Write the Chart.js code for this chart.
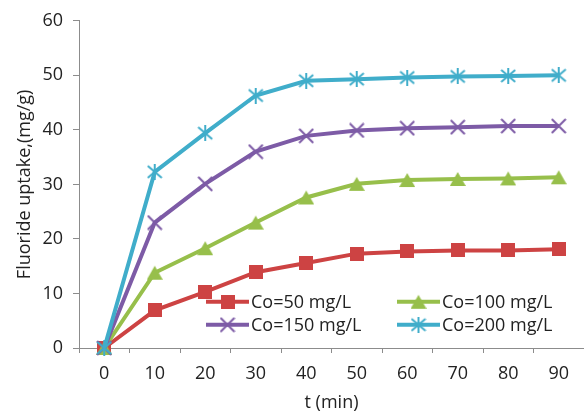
<!DOCTYPE html>
<html>
<head>
<meta charset="utf-8">
<script src="https://cdn.jsdelivr.net/npm/chart.js@4/dist/chart.umd.min.js"></script>
<style>
  html, body { margin: 0; padding: 0; background: #ffffff; }
  #wrap { width: 584px; height: 414px; position: relative; }
</style>
</head>
<body>
<div id="wrap"><canvas id="c" width="584" height="414"></canvas></div>
<script>
// ---- data ----
const timeLabels = ['0', '10', '20', '30', '40', '50', '60', '70', '80', '90'];
const co50  = [0, 6.9, 10.3, 13.9, 15.6, 17.3, 17.7, 17.9, 17.9, 18.1];
const co100 = [0, 13.8, 18.3, 23.0, 27.6, 30.1, 30.8, 31.0, 31.1, 31.3];
const co150 = [0, 23.0, 30.1, 36.0, 38.9, 39.9, 40.3, 40.5, 40.7, 40.7];
const co200 = [0, 32.3, 39.4, 46.3, 49.0, 49.3, 49.6, 49.8, 49.9, 50.0];
const seriesNames = ['Co=50 mg/L', 'Co=100 mg/L', 'Co=150 mg/L', 'Co=200 mg/L'];
const yTicks = [0, 10, 20, 30, 40, 50, 60];

const RED = '#CD4343', GREEN = '#97BF4B', PURPLE = '#7D5BA6', CYAN = '#40ADCA';
const FONT = '"Open Sans", "Noto Sans", sans-serif';

function mk(size, draw) {
  const c = document.createElement('canvas');
  c.width = size; c.height = size;
  draw(c.getContext('2d'), size);
  return c;
}
const squareImg = mk(14, (g, s) => { g.fillStyle = RED; g.fillRect(0, 0, s, s); });
const triImg = mk(16, (g, s) => {
  g.fillStyle = GREEN; g.beginPath();
  g.moveTo(s / 2, 1); g.lineTo(s, s - 1); g.lineTo(0, s - 1); g.closePath(); g.fill();
});
const crossImg = mk(16, (g, s) => {
  g.strokeStyle = PURPLE; g.lineWidth = 2; g.beginPath();
  g.moveTo(1, 1); g.lineTo(s - 1, s - 1); g.moveTo(s - 1, 1); g.lineTo(1, s - 1); g.stroke();
});
const starImg = mk(16, (g, s) => {
  g.strokeStyle = CYAN; g.lineWidth = 2; g.beginPath();
  g.moveTo(1, 2); g.lineTo(s - 1, s - 2); g.moveTo(s - 1, 2); g.lineTo(1, s - 2);
  g.moveTo(s / 2, 0); g.lineTo(s / 2, s); g.stroke();
});

const series = [
  { data: co50, color: RED, img: squareImg, order: 4 },
  { data: co100, color: GREEN, img: triImg, order: 3 },
  { data: co150, color: PURPLE, img: crossImg, order: 2 },
  { data: co200, color: CYAN, img: starImg, order: 1 }
];

const datasets = series.map((s, i) => ({
  label: seriesNames[i],
  data: s.data,
  borderColor: s.color,
  backgroundColor: s.color,
  borderWidth: 4,
  tension: 0,
  pointStyle: s.img,
  pointRadius: 7,
  order: s.order,
  clip: false
}));

// custom in-plot legend (2 columns x 2 rows)
const legendPlugin = {
  id: 'inLegend',
  afterDatasetsDraw(chart) {
    const ctx = chart.ctx, a = chart.chartArea;
    const cols = [a.left + 127, a.left + 318];
    const rows = [a.top + 281, a.top + 304];
    const lineLen = 43;
    ctx.save();
    ctx.font = '18px ' + FONT;
    ctx.textBaseline = 'middle';
    series.forEach((s, i) => {
      const x0 = cols[i % 2], y = rows[Math.floor(i / 2)];
      ctx.strokeStyle = s.color; ctx.lineWidth = 4;
      ctx.beginPath(); ctx.moveTo(x0, y); ctx.lineTo(x0 + lineLen, y); ctx.stroke();
      ctx.drawImage(s.img, x0 + lineLen / 2 - s.img.width / 2, y - s.img.height / 2);
      ctx.fillStyle = '#222';
      ctx.fillText(seriesNames[i], x0 + lineLen + 2, y + 1);
    });
    ctx.restore();
  }
};

new Chart(document.getElementById('c'), {
  type: 'line',
  data: { labels: timeLabels, datasets },
  plugins: [legendPlugin],
  options: {
    responsive: false,
    animation: false,
    events: [],
    layout: { autoPadding: false, padding: { top: 19, right: 0, left: 0, bottom: 0 } },
    plugins: { legend: { display: false }, tooltip: { enabled: false } },
    scales: {
      x: {
        type: 'category',
        offset: true,
        grid: { offset: true, drawOnChartArea: false, tickLength: 5, color: '#8c8c8c' },
        border: { color: '#8c8c8c', width: 1 },
        ticks: { font: { size: 18, family: FONT }, color: '#222', padding: 10, maxRotation: 0 },
        title: { display: true, text: 't (min)', font: { size: 18, family: FONT }, color: '#222', padding: { top: 0, bottom: 0 } },
        afterFit(scale) { scale.height = 66; }
      },
      y: {
        min: 0, max: 60,
        afterBuildTicks(scale) { scale.ticks = yTicks.map(v => ({ value: v })); },
        grid: { drawOnChartArea: false, tickLength: 6, color: '#8c8c8c' },
        border: { color: '#8c8c8c', width: 1 },
        ticks: { font: { size: 18, family: FONT }, color: '#222', padding: 10 },
        title: { display: true, text: 'Fluoride uptake,(mg/g)', font: { size: 18, family: FONT }, color: '#222', padding: { top: 14, bottom: 0 } },
        afterFit(scale) { scale.width = 79; }
      }
    }
  }
});
</script>
</body>
</html>
